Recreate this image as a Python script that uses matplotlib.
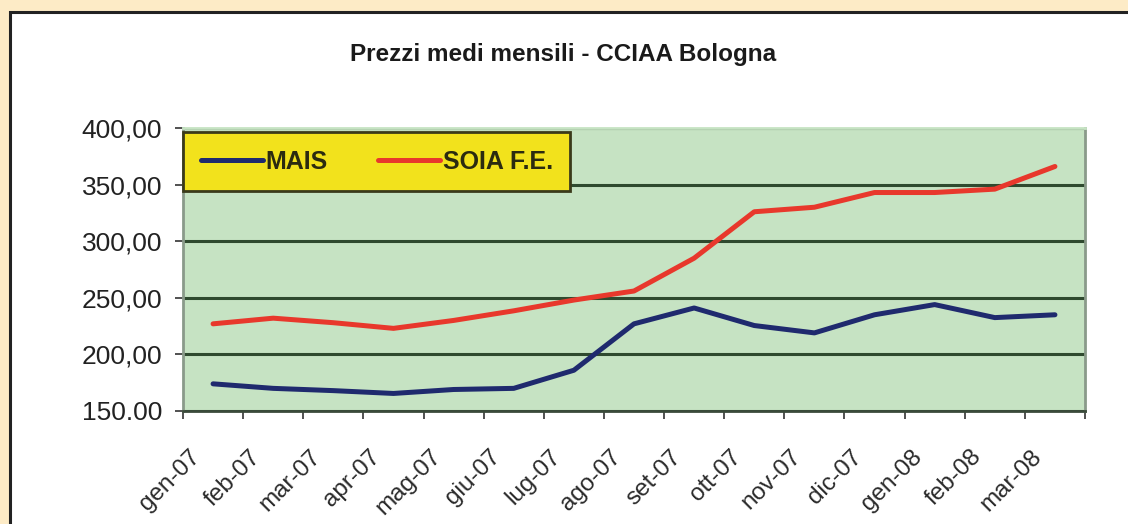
import matplotlib.pyplot as plt
import matplotlib.transforms as mtransforms
from matplotlib.patches import Rectangle

plt.rcParams['font.family'] = ['Liberation Sans', 'DejaVu Sans']

mesi = ["gen-07", "feb-07", "mar-07", "apr-07", "mag-07", "giu-07", "lug-07",
        "ago-07", "set-07", "ott-07", "nov-07", "dic-07", "gen-08", "feb-08",
        "mar-08"]
mais = [174, 170, 168, 165.5, 169, 170, 186, 227, 241, 225.5, 219, 235, 244,
        232.5, 235]
soia = [227, 232, 228, 223, 230, 238.5, 248, 256, 285, 326, 330, 343, 343,
        346, 366]
y_ticks = [150, 200, 250, 300, 350, 400]
y_labels = ["150.00", "200,00", "250,00", "300,00", "350,00", "400,00"]

fig = plt.figure(figsize=(11.28, 5.24), dpi=100)
fig.patch.set_facecolor("#fdebc6")

# white panel with dark border
fig.patches.append(Rectangle((10 / 1128, -0.05), 1.2, 1.05 - 12 / 524,
                             transform=fig.transFigure, facecolor="white",
                             edgecolor="#222222", linewidth=2.2, zorder=-5))

fig.text(563 / 1128, 1 - 55 / 524, "Prezzi medi mensili - CCIAA Bologna",
         ha="center", va="center", fontsize=17.5, fontweight="bold",
         color="#1a1a1a")

ax = fig.add_axes([183 / 1128, 1 - 411 / 524, (1085 - 183) / 1128,
                   (411 - 128) / 524])
ax.set_facecolor("#c6e3c3")

x = list(range(len(mesi)))
ax.plot(x, mais, color="#1f2a6e", linewidth=3.6, label="MAIS",
        solid_capstyle="round", solid_joinstyle="round", zorder=3)
ax.plot(x, soia, color="#e8382c", linewidth=3.6, label="SOIA F.E.",
        solid_capstyle="round", solid_joinstyle="round", zorder=3)

ax.set_xlim(-0.5, len(mesi) - 0.5)
ax.set_ylim(150, 400)
ax.set_yticks(y_ticks)
ax.set_yticklabels(y_labels, fontsize=19, color="#222222")
ax.yaxis.grid(True, color="#2f4a2f", linewidth=2.2)
ax.set_axisbelow(True)

ax.set_xticks(x)
ax.set_xticklabels(mesi, rotation=45, ha="right", rotation_mode="anchor",
                   fontsize=17.5, color="#2a2a2a")
ax.tick_params(axis="x", which="major", length=0, pad=25)
shift = mtransforms.ScaledTranslation(-24 / 100, 0, fig.dpi_scale_trans)
for lab in ax.get_xticklabels():
    lab.set_transform(lab.get_transform() + shift)
ax.set_xticks([i - 0.5 for i in range(len(mesi) + 1)], minor=True)
ax.tick_params(axis="x", which="minor", length=6, width=1.2,
               color="#333333")
ax.tick_params(axis="y", length=6, width=1.2, color="#333333", pad=9)

for side in ["left", "right", "top"]:
    ax.spines[side].set_color("#8a9a8a")
    ax.spines[side].set_linewidth(2)
ax.spines["top"].set_color("#c6e3c3")
ax.spines["bottom"].set_color("#3a4a3a")
ax.spines["bottom"].set_linewidth(2)

leg = ax.legend(loc="upper left", bbox_to_anchor=(0, 0.985), borderaxespad=0,
                ncol=2, frameon=True, fancybox=False,
                prop={"size": 18, "weight": "bold"},
                handlelength=2.5, handletextpad=0.1, columnspacing=2.0,
                borderpad=0.7)
for txt in leg.get_texts():
    txt.set_color("#2b2b10")
leg.get_frame().set_facecolor("#f2e21c")
leg.get_frame().set_edgecolor("#3a3a1a")
leg.get_frame().set_linewidth(2)
leg.get_frame().set_alpha(1)

fig.savefig("out.png", dpi=100, facecolor=fig.get_facecolor())
